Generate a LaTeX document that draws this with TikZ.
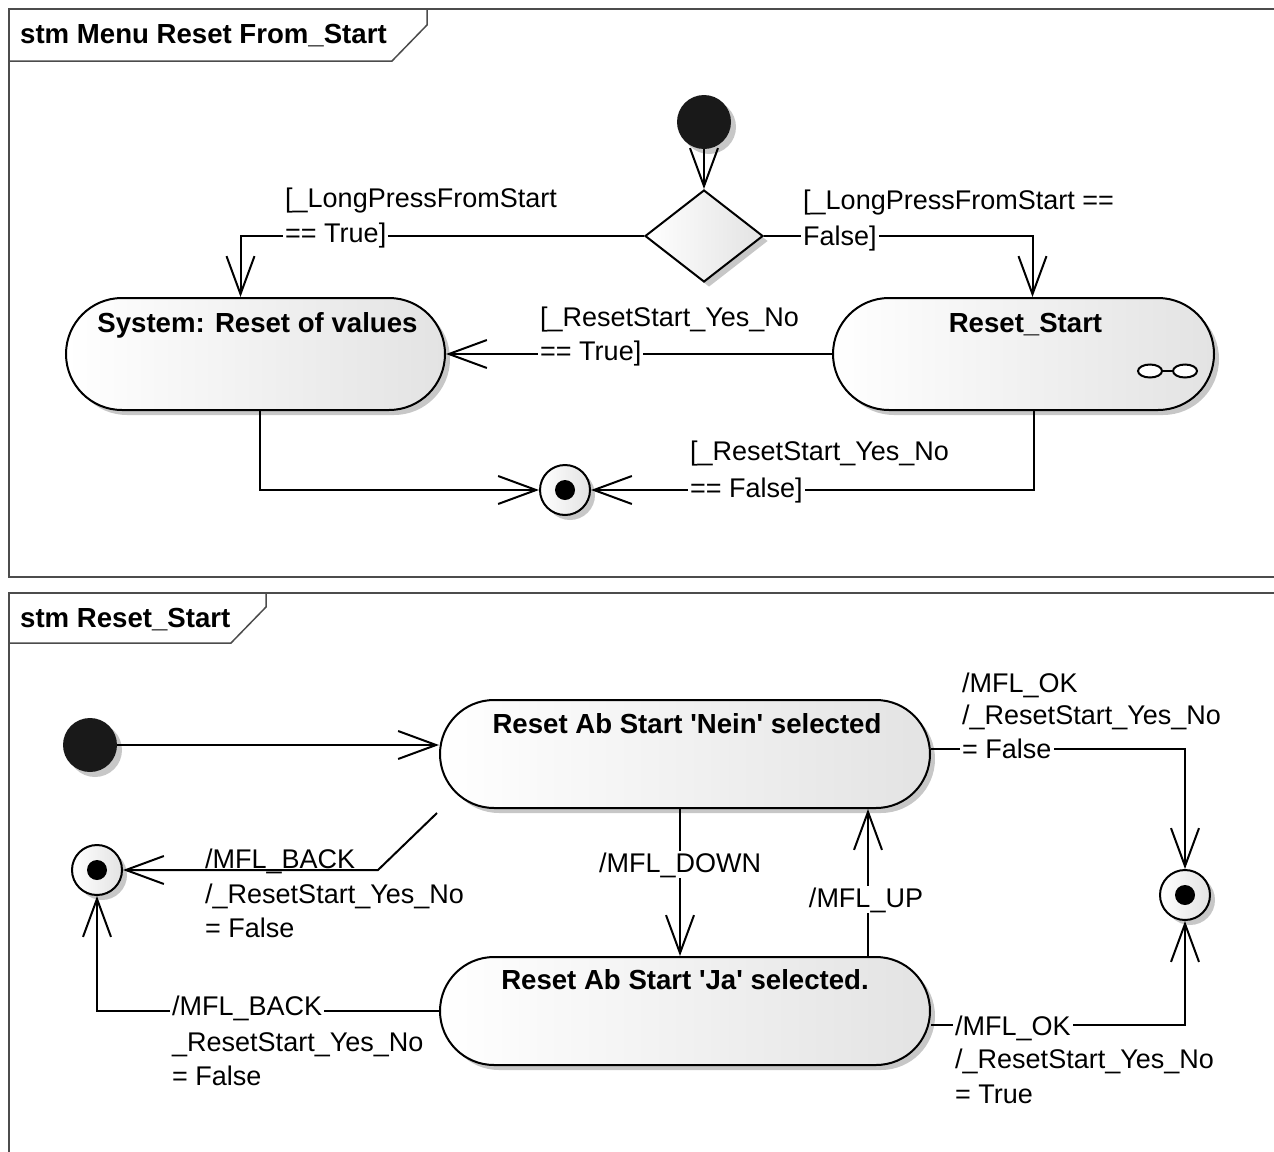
\documentclass[tikz,border=0pt]{standalone}
\usepackage{fontspec}
\setmainfont{Liberation Sans}[Ligatures=TeXOff]
\usetikzlibrary{arrows.meta,shapes.geometric,shapes.misc,shadows,calc}

\begin{document}
\begin{tikzpicture}[x=1pt,y=-1pt,
  every node/.style={font=\fontsize{27}{35}\selectfont},
  frame/.style={draw=black!70, line width=1.5pt},
  sh/.style={drop shadow={shadow xshift=5pt,shadow yshift=-5pt,fill=black!22,opacity=1}},
  grad/.style={left color=white,middle color=white,right color=black!11},
  statebox/.style={rounded rectangle, draw, line width=2pt, grad, sh, inner sep=0pt, minimum height=112pt},
  startdot/.style={circle, fill=black!90, inner sep=0pt, minimum size=54pt, sh},
  enddot/.style={circle, draw, line width=2pt, grad, sh, inner sep=0pt, minimum size=50pt},
  choice/.style={diamond, draw, line width=2pt, grad, sh, inner sep=0pt, minimum width=118pt, minimum height=92pt},
  conn/.style={line width=2pt, -{Straight Barb[length=38pt,width=28pt]}},
  title/.style={font=\fontsize{27.6}{35}\selectfont\bfseries, anchor=base, inner sep=0pt},
  lbl/.style={anchor=base west, inner sep=0pt},
  lblw/.style={anchor=base west, inner xsep=2pt, inner ysep=1pt, fill=white},
  lblc/.style={anchor=base, inner xsep=2pt, inner ysep=1pt, fill=white},
]
\useasboundingbox (0,0) rectangle (1274,1151);

% ---------- frame: stm Menu Reset From_Start ----------
\draw[frame] (1280,9) -- (9,9) -- (9,577) -- (1280,577);
\draw[frame] (9,61) -- (392,61) -- (427,25) -- (427,9);
\node[title, anchor=base west] (t1) at (20,43) {stm Menu Reset From\_Start};

\node[startdot] (i1) at (704,122) {};
\node[choice] (d1) at (704,236) {};
\node[statebox, minimum width=379pt] (sys) at (255.5,354) {};
\node[statebox, minimum width=381pt] (rst) at (1023.5,354) {};
\node[enddot] (f1) at (565,490) {};
\fill (f1) circle[radius=10];

\node[title] (sysT) at ($(sys.north)+(2,35)$) {System: Reset of values};
\node[title] (rstT) at ($(rst.north)+(2,35)$) {Reset\_Start};

% composite state icon
\draw[line width=2pt, fill=white] (1150,371) ellipse[x radius=12, y radius=6.5];
\draw[line width=2pt, fill=white] (1185,371) ellipse[x radius=12, y radius=6.5];
\draw[line width=2pt] (1162,371) -- (1173,371);

\draw[conn] (i1) -- (d1.north);
\draw[conn] (d1.west) -| ($(sys.north)+(-15,0)$);
\draw[conn] (d1.east) -| ($(rst.north)+(9,0)$);
\draw[conn] (rst.west) -- (sys.east);
\draw[conn] ($(sys.south)+(4,0)$) |- (f1.west);
\draw[conn] ($(rst.south)+(10,0)$) |- (f1.east);

\node[lbl] (a1) at (285,207) {[\_LongPressFromStart};
\node[lblw] (a2) at (283,242) {== True]};
\node[lbl] (b1) at (803,209) {[\_LongPressFromStart ==};
\node[lblw] (b2) at (801,245) {False]};
\node[lbl] (c1) at (540,326) {[\_ResetStart\_Yes\_No};
\node[lblw] (c2) at (538,360) {== True]};
\node[lbl] (e1) at (690,460) {[\_ResetStart\_Yes\_No};
\node[lblw] (e2) at (688,497) {== False]};

% ---------- frame: stm Reset_Start ----------
\draw[frame] (1280,593) -- (9,593) -- (9,1160);
\draw[frame] (9,643) -- (231,643) -- (266,607) -- (266,593);
\node[title, anchor=base west] (t2) at (20,627) {stm Reset\_Start};

\node[startdot] (i2) at (90,745) {};
\node[statebox, minimum width=490pt, minimum height=108pt] (nein) at (685,754) {};
\node[statebox, minimum width=490pt, minimum height=108pt] (ja) at (685,1011) {};
\node[enddot] (f2) at (97,870) {};
\fill (f2) circle[radius=10];
\node[enddot] (f3) at (1185,895) {};
\fill (f3) circle[radius=10];

\node[title] (neinT) at ($(nein.north)+(2,34)$) {Reset Ab Start 'Nein' selected};
\node[title] (jaT) at ($(ja.north)+(0,33)$) {Reset Ab Start 'Ja' selected.};

\draw[conn] (i2) -- (i2 -| nein.west);
\coordinate (bk) at ($(nein.south)+(-248,4)$);
\draw[conn] (bk) -- ([xshift=255pt]f2.east) -- (f2.east);
\draw[conn] ($(nein.south)+(-5,0)$) -- ($(ja.north)+(-5,0)$);
\draw[conn] ($(ja.north)+(183,0)$) -- ($(nein.south)+(183,0)$);
\draw[conn] ($(nein.east)+(0,-5)$) -| (f3.north);
\draw[conn] ($(ja.east)+(0,14)$) -| (f3.south);
\draw[conn] (ja.west) -| (f2.south);

\node[lbl] (g1) at (205,868) {/MFL\_BACK};
\node[lbl] (g2) at (205,903) {/\_ResetStart\_Yes\_No};
\node[lbl] (g3) at (205,937) {= False};
\node[lblc] (h1) at (680,872) {/MFL\_DOWN};
\node[lblc] (h2) at (866,907) {/MFL\_UP};
\node[lbl] (k1) at (962,692) {/MFL\_OK};
\node[lbl] (k2) at (962,724) {/\_ResetStart\_Yes\_No};
\node[lblw] (k3) at (960,758) {= False};
\node[lblw] (m1) at (953,1035) {/MFL\_OK};
\node[lbl] (m2) at (955,1068) {/\_ResetStart\_Yes\_No};
\node[lbl] (m3) at (955,1103) {= True};
\node[lblw] (n1) at (170,1015) {/MFL\_BACK};
\node[lbl] (n2) at (172,1051) {\_ResetStart\_Yes\_No};
\node[lbl] (n3) at (172,1085) {= False};
\end{tikzpicture}
\end{document}
